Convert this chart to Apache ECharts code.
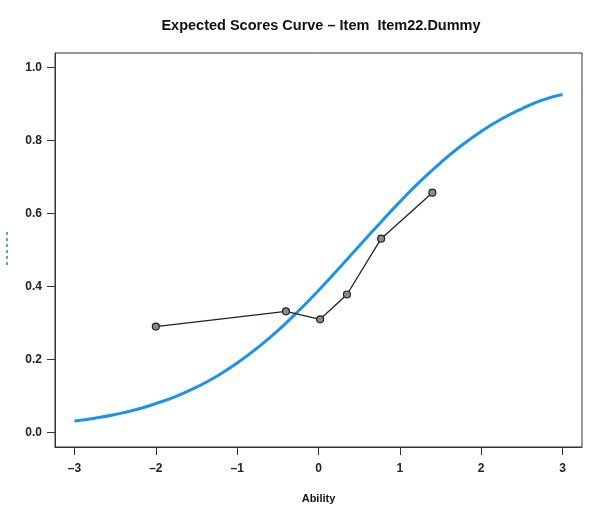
<!DOCTYPE html>
<html lang="en">
<head>
    <meta charset="utf-8">
    <title>Expected Scores Curve</title>
    <script src="https://cdn.jsdelivr.net/npm/echarts@6/dist/echarts.min.js"></script>
    <style>
        html, body { margin: 0; padding: 0; background: #fff; }
    </style>
</head>
<body>

<div id="main" style="width:593px;height:506px;"></div>

<script type="text/javascript">

    // expected score curve, every 0.25 ability units
    var curveAbility = [-3, -2.75, -2.5, -2.25, -2, -1.75, -1.5, -1.25, -1, -0.75, -0.5, -0.25,
                        0, 0.25, 0.5, 0.75, 1, 1.25, 1.5, 1.75, 2, 2.25, 2.5, 2.75, 3];
    var curveScore = [0.031, 0.039, 0.049, 0.062, 0.079, 0.099, 0.124, 0.154, 0.190, 0.232, 0.279, 0.332,
                      0.389, 0.449, 0.511, 0.572, 0.632, 0.688, 0.739, 0.785, 0.825, 0.859, 0.887, 0.911, 0.926];

    // observed group means
    var obsAbility = [-2.0, -0.40, 0.02, 0.35, 0.77, 1.40];
    var obsScore = [0.290, 0.332, 0.310, 0.378, 0.531, 0.657];

    var xTicks = [-3, -2, -1, 0, 1, 2, 3];
    var yTicks = [0, 0.2, 0.4, 0.6, 0.8, 1.0];

    function pairs(xs, ys) {
        var out = [];
        for (var i = 0; i < xs.length; i++) out.push([xs[i], ys[i]]);
        return out;
    }

    var myChart = echarts.init(document.getElementById('main'));

    var option = {
        backgroundColor: '#ffffff',
        animation: false,
        title: {
            text: 'Expected Scores Curve \u2013 Item  Item22.Dummy',
            left: 316,
            top: 13,
            textAlign: 'center',
            textStyle: {
                fontFamily: 'Liberation Sans, Arial, sans-serif',
                fontSize: 14.5,
                fontWeight: 'bold',
                color: '#111'
            }
        },
        grid: {
            left: 55,
            right: 11,
            top: 53,
            bottom: 59,
            outerBoundsMode: 'none',
            containLabel: false,
            show: true,
            borderColor: '#333',
            borderWidth: 1,
            backgroundColor: 'transparent'
        },
        xAxis: {
            type: 'value',
            min: -3.24,
            max: 3.24,
            name: 'Ability',
            nameLocation: 'middle',
            nameGap: 46,
            nameTextStyle: {
                fontFamily: 'Liberation Sans, Arial, sans-serif',
                fontSize: 11,
                fontWeight: 'bold',
                color: '#111'
            },
            axisLine: { show: true, onZero: false, lineStyle: { color: '#333', width: 1 } },
            axisTick: { show: true, customValues: xTicks, length: 8, lineStyle: { color: '#333' } },
            axisLabel: {
                customValues: xTicks,
                margin: 16,
                fontFamily: 'Liberation Sans, Arial, sans-serif',
                fontSize: 12,
                fontWeight: 'bold',
                color: '#222',
                formatter: function (v) {
                    return v < 0 ? '\u2013' + Math.abs(v) : String(v);
                }
            },
            splitLine: { show: false }
        },
        yAxis: {
            type: 'value',
            min: -0.04,
            max: 1.04,
            axisLine: { show: true, onZero: false, lineStyle: { color: '#333', width: 1 } },
            axisTick: { show: true, customValues: yTicks, length: 8, lineStyle: { color: '#333' } },
            axisLabel: {
                customValues: yTicks,
                margin: 13,
                fontFamily: 'Liberation Sans, Arial, sans-serif',
                fontSize: 12,
                fontWeight: 'bold',
                color: '#222',
                formatter: function (v) { return v.toFixed(1); }
            },
            splitLine: { show: false }
        },
        graphic: [{
            type: 'line',
            shape: { x1: 7, y1: 232, x2: 7, y2: 265 },
            style: { stroke: '#2a7fd0', lineWidth: 1.5, lineDash: [3, 3] }
        }],
        series: [{
            name: 'expected',
            type: 'line',
            data: pairs(curveAbility, curveScore),
            smooth: true,
            showSymbol: false,
            lineStyle: { color: '#1b94e8', width: 3 },
            z: 2
        }, {
            name: 'observed',
            type: 'line',
            data: pairs(obsAbility, obsScore),
            symbol: 'circle',
            symbolSize: 7,
            lineStyle: { color: '#222', width: 1.3 },
            itemStyle: { color: '#8a8a8a', borderColor: '#222', borderWidth: 1.2 },
            z: 3
        }]
    };

    myChart.setOption(option);

</script>

</body>
</html>
